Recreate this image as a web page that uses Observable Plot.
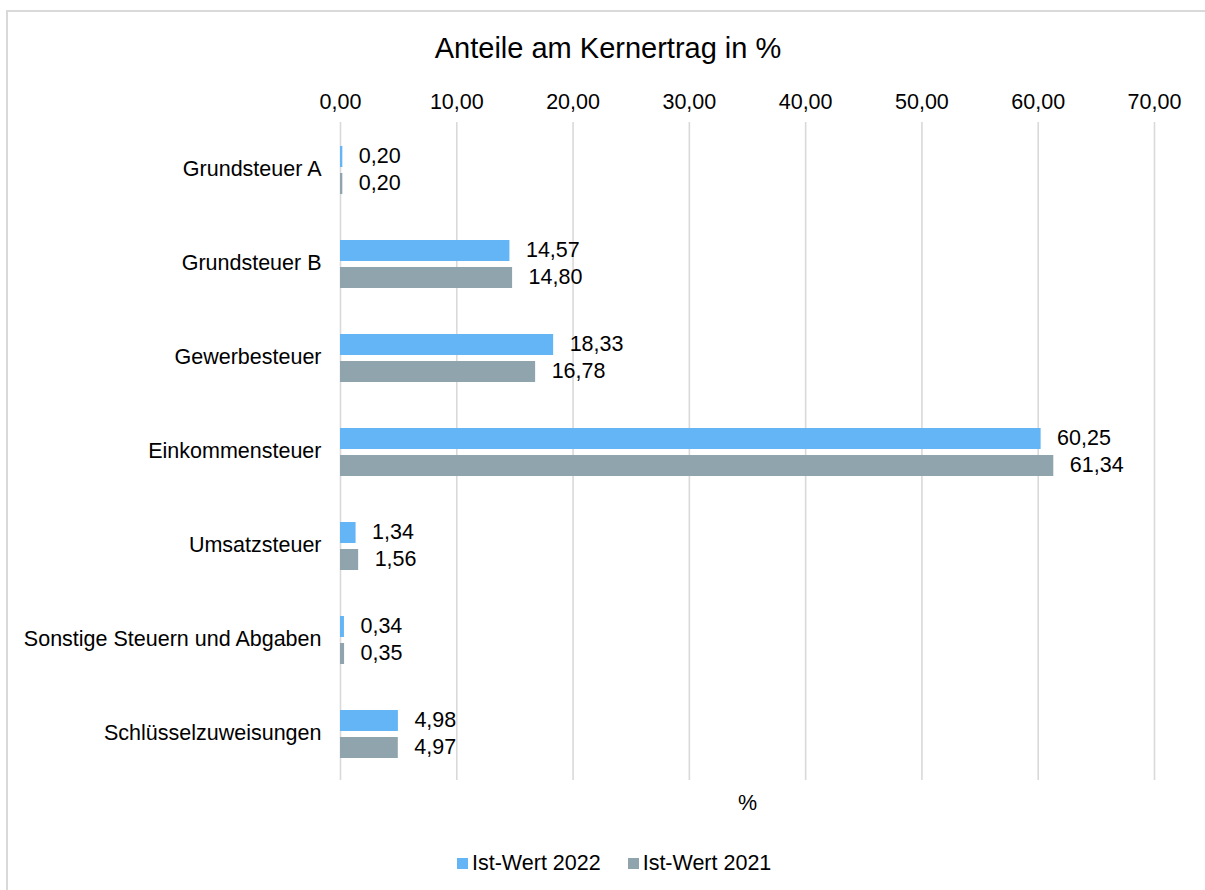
<!DOCTYPE html>
<html>
<head>
<meta charset="utf-8">
<script src="https://cdn.jsdelivr.net/npm/d3@7"></script>
<script src="https://cdn.jsdelivr.net/npm/@observablehq/plot@0.6"></script>
<style>
  html, body { margin: 0; padding: 0; background: #fff; overflow: hidden; }
  body { width: 1205px; height: 890px; position: relative; font-family: "Liberation Sans", Arial, sans-serif; color: #000; }
  #frame { position: absolute; left: 6px; top: 10px; width: 1220px; height: 920px; border: 2px solid #d9d9d9; box-sizing: border-box; }
  #chart { position: absolute; left: 0; top: 0; }
  #title { position: absolute; left: 0; width: 1216px; top: 30px; text-align: center; font-size: 29px; line-height: 36px; }
  #xlabel { position: absolute; left: 738px; top: 790px; font-size: 21.5px; line-height: 26px; }
  #legend { position: absolute; top: 850px; left: 457px; font-size: 21.5px; line-height: 26px; display: flex; align-items: center; }
  .sw { display: inline-block; width: 11px; height: 11px; margin-right: 4px; }
  .item { display: flex; align-items: center; margin-right: 27px; }
</style>
</head>
<body>
<div id="frame"></div>
<div id="chart"></div>
<div id="title">Anteile am Kernertrag in %</div>
<div id="xlabel">%</div>
<div id="legend"></div>
<script>
const categories = ["Grundsteuer A", "Grundsteuer B", "Gewerbesteuer", "Einkommensteuer", "Umsatzsteuer", "Sonstige Steuern und Abgaben", "Schlüsselzuweisungen"];
const series = ["Ist-Wert 2022", "Ist-Wert 2021"];
const values2022 = [0.20, 14.57, 18.33, 60.25, 1.34, 0.34, 4.98];
const values2021 = [0.20, 14.80, 16.78, 61.34, 1.56, 0.35, 4.97];
const xTicks = [0, 10, 20, 30, 40, 50, 60, 70];
const colors = ["#64b5f6", "#90a4ae"];

const locale = d3.formatLocale({decimal: ",", thousands: ".", grouping: [3], currency: ["", " €"]});
const fmt = locale.format(".2f");

const d22 = categories.map((c, i) => ({cat: c, value: values2022[i], series: series[0]}));
const d21 = categories.map((c, i) => ({cat: c, value: values2021[i], series: series[1]}));

const chart = Plot.plot({
  width: 1205,
  height: 890,
  marginLeft: 340,
  marginRight: 51,
  marginTop: 122,
  marginBottom: 110,
  style: {fontFamily: "Liberation Sans, Arial, sans-serif", fontSize: "21.5px", color: "#000", background: "transparent"},
  x: {domain: [0, 70], ticks: xTicks},
  y: {domain: categories, padding: 0},
  marks: [
    Plot.ruleX(xTicks, {x: d => d, stroke: "#d9d9d9", strokeWidth: 1.6}),
    Plot.barX(d22, {x: "value", y: "cat", fill: colors[0], insetTop: 24, insetBottom: 49}),
    Plot.barX(d21, {x: "value", y: "cat", fill: colors[1], insetTop: 51, insetBottom: 22}),
    Plot.text(d22, {x: "value", y: "cat", text: d => fmt(d.value), dx: 16, dy: -13, textAnchor: "start", fill: "#000", fontSize: 21.5}),
    Plot.text(d21, {x: "value", y: "cat", text: d => fmt(d.value), dx: 16, dy: 14, textAnchor: "start", fill: "#000", fontSize: 21.5}),
    Plot.axisX({anchor: "top", ticks: xTicks, tickFormat: fmt, tickSize: 0, tickPadding: 14, label: null, fontSize: 21.5}),
    Plot.axisY({tickSize: 0, tickPadding: 19, label: null, fontSize: 21.5})
  ]
});
document.getElementById("chart").appendChild(chart);

const legend = document.getElementById("legend");
series.forEach((s, i) => {
  const item = document.createElement("div");
  item.className = "item";
  const sw = document.createElement("span");
  sw.className = "sw";
  sw.style.background = colors[i];
  item.appendChild(sw);
  item.appendChild(document.createTextNode(s));
  legend.appendChild(item);
});
</script>
</body>
</html>
